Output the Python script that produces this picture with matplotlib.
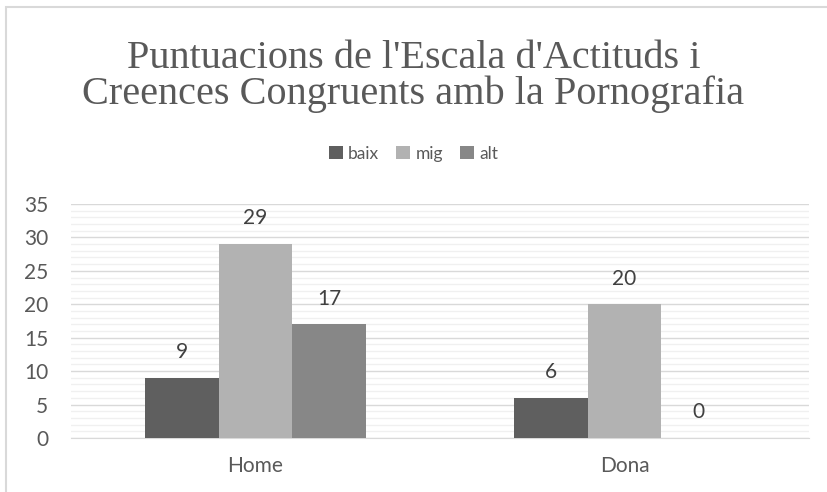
import numpy as np
import matplotlib
matplotlib.use('Agg')
import matplotlib.pyplot as plt
from matplotlib.patches import Rectangle

# Dades del gràfic
categories = ['Home', 'Dona']
series_names = ['baix', 'mig', 'alt']
baix = [9, 6]
mig = [29, 20]
alt = [17, 0]
title_lines = ["Puntuacions de l'Escala d'Actituds i",
               "Creences Congruents amb la Pornografia"]

colors = ['#5f5f5f', '#b2b2b2', '#878787']
label_font = ['Lato', 'DejaVu Sans']
text_grey = '#595959'

fig = plt.figure(figsize=(8.27, 4.92), dpi=100)
ax = fig.add_axes([0.0859, 0.1098, 0.8923, 0.4756])

x = np.arange(len(categories))
w = 0.2
for i, (name, vals) in enumerate(zip(series_names, [baix, mig, alt])):
    pos = x + (i - 1) * w
    ax.bar(pos, vals, width=w, color=colors[i], label=name, zorder=3)
    for px, v in zip(pos, vals):
        ax.annotate(f'{v}', (px, v), xytext=(0, 18.5), textcoords='offset points',
                    ha='center', va='center', fontsize=15, color='#404040',
                    family=label_font)

ax.set_xlim(-0.5, 1.5)
ax.set_ylim(0, 35)
ax.set_yticks(np.arange(0, 36, 5))
ax.set_yticks(np.arange(0, 36, 1), minor=True)
ax.set_xticks(x)
ax.set_xticklabels(categories)
ax.grid(axis='y', which='major', color='#d9d9d9', lw=1.0, zorder=0)
ax.grid(axis='y', which='minor', color='#f0f0f0', lw=1.0, zorder=0)
for s in ['top', 'right', 'left']:
    ax.spines[s].set_visible(False)
ax.spines['bottom'].set_color('#d9d9d9')
ax.tick_params(axis='both', which='both', length=0)
ax.tick_params(axis='y', pad=16.5, labelsize=15, labelcolor=text_grey)
ax.tick_params(axis='x', pad=13, labelsize=15, labelcolor=text_grey)
for lab in ax.get_xticklabels() + ax.get_yticklabels():
    lab.set_family(label_font)

for k, line in enumerate(title_lines):
    fig.text(0.5, 1 - (59 + 35 * k) / 492, line, ha='center', va='center',
             fontsize=29, family=['Liberation Serif', 'DejaVu Serif'],
             color=text_grey)

leg = fig.legend(loc='center', bbox_to_anchor=(0.5, 0.688), ncol=3,
                 frameon=False, handlelength=0.8, handleheight=0.8,
                 handletextpad=0.3, columnspacing=1.0,
                 prop={'family': label_font, 'size': 12.5})
for t in leg.get_texts():
    t.set_color(text_grey)

# marc del gràfic
fig.patches.append(Rectangle((6 / 827, -0.1), 1.2, 1.1 - 7 / 492,
                             transform=fig.transFigure, fill=False,
                             edgecolor='#d9d9d9', lw=1.5))

fig.savefig('out.png', dpi=100)
